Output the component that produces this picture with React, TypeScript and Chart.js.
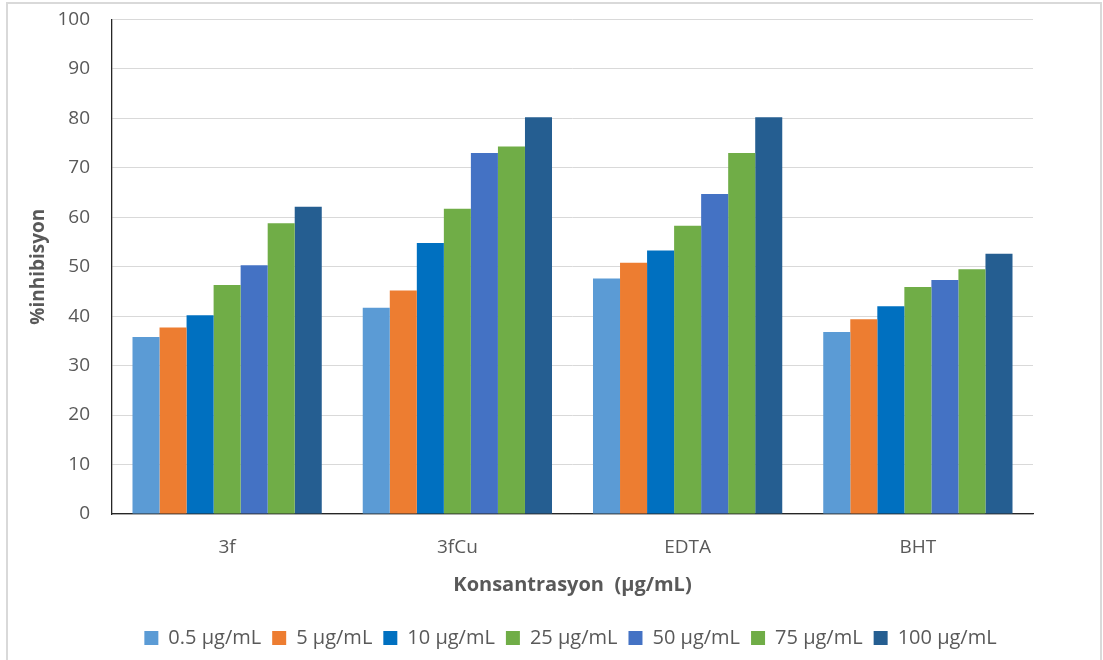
import { useEffect, useRef } from "react";
import { Chart, registerables } from "chart.js";

Chart.register(...registerables);

const categories = ["3f", "3fCu", "EDTA", "BHT"];
const seriesLabels = ["0.5 µg/mL", "5 µg/mL", "10 µg/mL", "25 µg/mL", "50 µg/mL", "75 µg/mL", "100 µg/mL"];
const s0_5 = [35.8, 41.7, 47.6, 36.8];
const s5 = [37.7, 45.2, 50.8, 39.4];
const s10 = [40.2, 54.8, 53.3, 42.0];
const s25 = [46.3, 61.7, 58.3, 45.9];
const s50 = [50.3, 73.0, 64.7, 47.3];
const s75 = [58.8, 74.3, 73.0, 49.5];
const s100 = [62.1, 80.2, 80.2, 52.6];
const seriesColors = ["#5B9BD5", "#ED7D31", "#0070C0", "#70AD47", "#4472C4", "#70AD47", "#255E91"];
const yMin = 0;
const yMax = 100;
const yStep = 10;
const yTitle = "%inhibisyon";
const xTitle = "Konsantrasyon  (µg/mL)";

const FONT = "'Open Sans', 'DejaVu Sans', sans-serif";
const TEXT = "#595959";

const frame = {
  id: "frame",
  beforeDraw(chart: any) {
    const { ctx, width, height } = chart;
    ctx.save();
    ctx.fillStyle = "#ffffff";
    ctx.fillRect(0, 0, width, height);
    ctx.strokeStyle = "#d9d9d9";
    ctx.lineWidth = 2;
    ctx.strokeRect(7, 3, 1094, height + 10);
    ctx.restore();
  },
};

// shift the legend so it is centred under the whole figure like the original
const legendShift = {
  id: "legendShift",
  afterLayout(chart: any) {
    const lg = chart.legend;
    if (lg) {
      lg.left += 54;
      lg.right += 54;
      lg.top += 3;
      lg.bottom += 3;
    }
  },
};

export default function App() {
  const ref = useRef<HTMLCanvasElement | null>(null);
  useEffect(() => {
    document.body.style.margin = "0";
    const all = [s0_5, s5, s10, s25, s50, s75, s100];
    const chart = new Chart(ref.current as HTMLCanvasElement, {
      type: "bar",
      data: {
        labels: categories,
        datasets: all.map((d, i) => ({
          label: seriesLabels[i],
          data: d,
          backgroundColor: seriesColors[i],
          borderWidth: 0,
          barPercentage: 1,
          categoryPercentage: 0.822,
        })),
      },
      options: {
        animation: false,
        responsive: false,
        maintainAspectRatio: false,
        layout: { padding: { left: 0, right: 70, top: 5, bottom: 5 } },
        plugins: {
          tooltip: { enabled: false },
          legend: {
            position: "bottom",
            labels: {
              boxWidth: 14,
              boxHeight: 14,
              padding: 11,
              color: TEXT,
              font: { family: FONT, size: 20 },
            },
          },
        },
        scales: {
          x: {
            grid: { display: false, drawTicks: false },
            border: { display: true, color: "#262626", width: 1.3 },
            ticks: { color: TEXT, font: { family: FONT, size: 19 }, padding: 22 },
            title: {
              display: true,
              text: xTitle,
              color: TEXT,
              font: { family: FONT, size: 20, weight: "bold" },
              padding: { top: 0, bottom: 17 },
            },
            afterFit(scale: any) {
              scale.height = 100;
            },
          },
          y: {
            min: yMin,
            max: yMax,
            ticks: { stepSize: yStep, color: TEXT, font: { family: FONT, size: 19 }, padding: 8 },
            grid: { color: "#d9d9d9", lineWidth: 1, drawTicks: true, tickLength: 14, tickColor: "rgba(0,0,0,0)" },
            border: { display: true, color: "#262626", width: 1.3 },
            title: {
              display: true,
              text: yTitle,
              color: TEXT,
              font: { family: FONT, size: 19, weight: "bold" },
              padding: { top: 27, bottom: 0 },
            },
            afterFit(scale: any) {
              scale.width = 112;
            },
          },
        },
      },
      plugins: [frame, legendShift],
    });
    return () => chart.destroy();
  }, []);
  return (
    <div style={{ width: 1103, height: 660 }}>
      <canvas ref={ref} width={1103} height={660} style={{ display: "block" }} />
    </div>
  );
}
